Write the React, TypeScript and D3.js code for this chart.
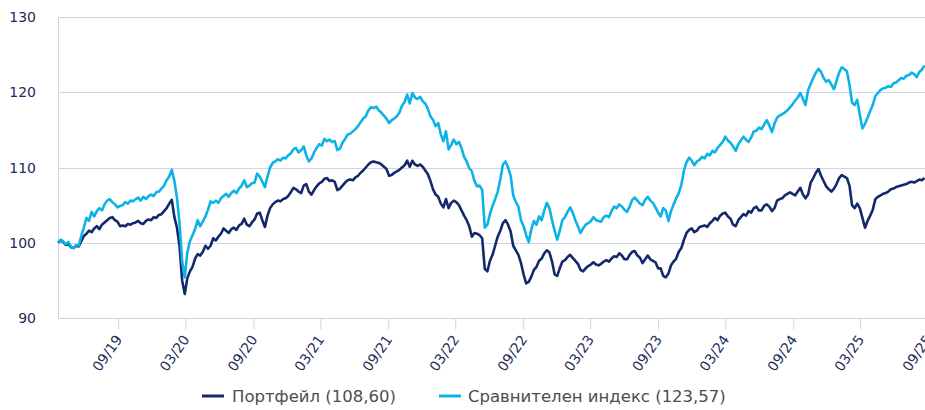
import React, { useEffect, useRef } from "react";
import * as d3 from "d3";

// weekly observations, first one on 22.03.2019
const startDate = new Date(2019, 2, 22);
const stepDays = 7;

const portfolio = [
  100.0, 100.3, 100.1, 99.7, 99.8, 99.4, 99.3, 99.6, 99.5, 100.2,
  100.9, 101.2, 101.6, 101.4, 101.9, 102.2, 101.8, 102.4, 102.7, 103.0,
  103.3, 103.4, 103.0, 102.8, 102.2, 102.3, 102.2, 102.5, 102.4, 102.6,
  102.7, 102.9, 102.6, 102.5, 102.9, 103.1, 103.0, 103.4, 103.3, 103.7,
  103.8, 104.2, 104.6, 105.2, 105.7, 103.4, 102.0, 99.5, 95.0, 93.2,
  95.3, 96.2, 96.8, 97.9, 98.5, 98.3, 98.8, 99.6, 99.2, 99.6,
  100.6, 100.3, 100.8, 101.2, 101.9, 101.6, 101.3, 101.8, 102.0, 101.7,
  102.3, 102.5, 103.2, 102.4, 102.2, 102.7, 103.1, 103.9, 104.0, 103.0,
  102.1, 103.6, 104.6, 105.1, 105.4, 105.6, 105.5, 105.8, 105.9, 106.2,
  106.7, 107.3, 107.1, 106.8, 106.6, 107.6, 107.8, 106.8, 106.4, 107.0,
  107.5, 107.9, 108.1, 108.5, 108.6, 108.2, 108.3, 108.1, 107.0, 107.2,
  107.6, 108.0, 108.3, 108.4, 108.3, 108.7, 108.9, 109.3, 109.6, 110.0,
  110.4, 110.7, 110.8, 110.7, 110.6, 110.4, 110.1, 109.8, 108.9, 109.0,
  109.3, 109.5, 109.7, 110.0, 110.3, 110.9, 110.1, 110.9, 110.4, 110.2,
  110.4, 110.1, 109.6, 109.1, 108.2, 107.1, 106.4, 106.1, 105.2, 104.7,
  105.8, 104.6, 105.3, 105.6, 105.4, 105.0, 104.3, 103.6, 103.0, 102.2,
  100.8, 101.3, 101.2, 101.0, 100.6, 96.5, 96.2, 97.6, 98.4, 99.6,
  100.8, 101.6, 102.6, 103.0, 102.4, 101.5, 99.6, 99.0, 98.4, 97.3,
  95.8, 94.6, 94.8, 95.5, 96.4, 96.8, 97.6, 97.9, 98.6, 99.0,
  98.7, 97.5, 95.8, 95.6, 96.6, 97.5, 97.7, 98.1, 98.4, 98.0,
  97.6, 97.2, 96.4, 96.2, 96.6, 96.9, 97.1, 97.4, 97.1, 97.0,
  97.2, 97.5, 97.7, 97.5, 97.9, 98.2, 98.1, 98.6, 98.3, 97.8,
  97.8, 98.4, 98.8, 98.9, 98.3, 98.0, 97.3, 97.8, 98.3, 97.8,
  97.6, 97.4, 96.6, 96.6, 95.6, 95.4, 95.9, 97.0, 97.5, 97.9,
  98.8, 99.3, 100.4, 101.3, 101.7, 101.9, 101.4, 101.6, 102.1, 102.2,
  102.3, 102.1, 102.6, 102.9, 103.3, 103.0, 103.6, 103.9, 104.0, 103.5,
  103.2, 102.4, 102.2, 103.0, 103.4, 103.8, 103.6, 104.2, 104.0, 104.6,
  104.8, 104.3, 104.3, 104.9, 105.1, 104.8, 104.2, 104.6, 105.6, 105.8,
  105.9, 106.3, 106.5, 106.7, 106.5, 106.3, 106.8, 107.3, 106.4, 105.9,
  106.4, 108.0, 108.6, 109.3, 109.8, 108.9, 108.2, 107.5, 107.1, 106.8,
  107.2, 107.8, 108.6, 109.0, 108.8, 108.6, 107.6, 105.0, 104.6, 105.2,
  104.6, 103.3, 102.0, 102.9, 103.6, 104.4, 105.8, 106.1, 106.3, 106.5,
  106.6, 106.8, 107.1, 107.2, 107.4, 107.5, 107.6, 107.7, 107.8, 108.0,
  108.1, 108.0, 108.2, 108.4, 108.3, 108.6,
];

const benchmark = [
  100.0, 100.4, 100.2, 99.8, 100.1, 99.5, 99.3, 99.7, 99.6, 100.9,
  102.0, 103.3, 102.9, 104.1, 103.5, 104.2, 104.6, 104.3, 105.1, 105.6,
  105.8, 105.4, 105.1, 104.7, 104.9, 105.0, 105.4, 105.2, 105.6, 105.5,
  105.8, 106.0, 105.6, 106.1, 105.8, 106.2, 106.4, 106.2, 106.7, 106.8,
  107.2, 107.6, 108.3, 108.8, 109.7, 108.2, 106.0, 102.5, 97.5, 95.4,
  98.7, 100.2, 101.0, 101.8, 103.0, 102.2, 102.8, 103.5, 104.4, 105.5,
  105.3, 105.6, 105.3, 105.9, 106.2, 106.5, 106.1, 106.6, 106.9, 106.6,
  107.2, 107.6, 108.3, 107.4, 107.6, 107.9, 108.0, 109.2, 108.8, 108.1,
  107.4, 108.8, 110.0, 110.6, 110.8, 111.1, 110.9, 111.3, 111.2, 111.6,
  111.9, 112.4, 112.6, 112.0, 112.3, 112.8, 111.6, 110.8, 111.2, 112.0,
  112.6, 113.1, 112.9, 113.8, 113.5, 113.7, 113.4, 113.5, 112.3, 112.5,
  113.3, 113.8, 114.4, 114.5, 114.8, 115.1, 115.5, 116.0, 116.5, 116.8,
  117.6, 118.0, 117.9, 118.1, 117.6, 117.3, 116.9, 116.5, 115.9, 116.3,
  116.5, 116.8, 117.3, 118.2, 118.7, 119.7, 118.5, 119.9, 119.3, 119.1,
  119.4, 118.8, 118.5, 117.8, 116.8, 116.3, 115.5, 115.9, 114.4, 113.5,
  114.8, 112.4, 113.0, 113.7, 113.1, 113.4, 112.6, 111.4, 110.8, 109.9,
  109.5, 108.2, 107.5, 107.6, 107.0, 102.0, 102.4, 103.8, 104.9, 105.8,
  106.8, 108.4, 110.4, 110.8, 110.0, 108.9, 106.3, 105.4, 104.8, 103.0,
  102.2, 101.0, 100.1, 101.8, 102.9, 102.4, 103.5, 103.0, 104.3, 105.3,
  104.6, 103.0, 101.6, 100.4, 101.6, 103.0, 103.4, 104.1, 104.7, 104.0,
  103.0, 102.2, 101.3, 101.9, 102.4, 102.6, 102.9, 103.4, 103.0, 102.9,
  102.8, 103.4, 103.6, 103.4, 104.2, 104.8, 104.6, 105.1, 104.8, 104.4,
  104.1, 104.8, 105.7, 106.0, 105.6, 105.2, 105.0, 105.7, 106.1, 105.6,
  105.3, 104.7, 104.0, 103.5, 104.6, 104.3, 102.9, 104.2, 105.1, 105.9,
  106.6, 107.7, 109.6, 110.7, 111.3, 110.9, 110.3, 110.8, 111.0, 111.4,
  111.2, 111.8, 111.6, 112.2, 112.0, 112.6, 113.0, 113.4, 114.1, 113.6,
  113.3, 112.8, 112.2, 113.1, 113.6, 114.1, 113.7, 113.4, 114.0, 114.8,
  114.9, 115.3, 115.1, 115.7, 116.3, 115.6, 114.7, 115.8, 116.6, 116.9,
  117.1, 117.3, 117.6, 118.0, 118.4, 118.9, 119.3, 119.9, 119.1, 118.3,
  120.3, 121.1, 121.9, 122.6, 123.1, 122.7, 121.9, 121.4, 121.6, 121.0,
  120.4, 121.5, 122.6, 123.3, 123.1, 122.8, 121.0, 118.6, 118.3, 119.0,
  117.0, 115.2, 115.8, 116.6, 117.5, 118.3, 119.5, 119.9, 120.3, 120.5,
  120.6, 120.8, 120.7, 121.2, 121.3, 121.6, 121.9, 121.8, 122.2, 122.3,
  122.6, 122.4, 122.0, 122.7, 123.0, 123.57,
];

const yTicks = [90, 100, 110, 120, 130];
const xTickDates = [
  "2019-09-01", "2020-03-01", "2020-09-01", "2021-03-01", "2021-09-01",
  "2022-03-01", "2022-09-01", "2023-03-01", "2023-09-01", "2024-03-01",
  "2024-09-01", "2025-03-01", "2025-09-01",
];
const xTickLabels = [
  "09/19", "03/20", "09/20", "03/21", "09/21", "03/22", "09/22",
  "03/23", "09/23", "03/24", "09/24", "03/25", "09/25",
];

const seriesNames = ["Портфейл (108,60)", "Сравнителен индекс (123,57)"];
const seriesColors = ["#14296b", "#0db3e6"];

const W = 925;
const H = 410;
const margin = { top: 17, right: 0, bottom: 92, left: 58 };

const App = () => {
  const svgRef = useRef(null);

  useEffect(() => {
    const svg = d3.select(svgRef.current);
    svg.selectAll("*").remove();

    const dates = portfolio.map((_, i) => d3.timeDay.offset(startDate, i * stepDays));
    const x = d3
      .scaleTime()
      .domain([dates[0], dates[dates.length - 1]])
      .range([margin.left, W - 0.5]);
    const y = d3
      .scaleLinear()
      .domain([90, 130])
      .range([H - margin.bottom, margin.top]);

    const gridColor = "#ccd6e6";
    const axisFont = "'DejaVu Sans', Verdana, sans-serif";
    const navy = "#1d2b5c";

    // horizontal grid
    svg
      .append("g")
      .selectAll("line")
      .data(yTicks)
      .enter()
      .append("line")
      .attr("x1", margin.left)
      .attr("x2", W)
      .attr("y1", (d) => Math.round(y(d)) + 0.5)
      .attr("y2", (d) => Math.round(y(d)) + 0.5)
      .attr("stroke", gridColor)
      .attr("stroke-width", 1);

    // left axis line
    svg
      .append("line")
      .attr("x1", margin.left + 0.5)
      .attr("x2", margin.left + 0.5)
      .attr("y1", y(130))
      .attr("y2", y(90))
      .attr("stroke", gridColor);

    // y labels
    svg
      .append("g")
      .selectAll("text")
      .data(yTicks)
      .enter()
      .append("text")
      .attr("x", 36)
      .attr("y", (d) => y(d))
      .attr("dy", "0.36em")
      .attr("text-anchor", "end")
      .style("font-family", axisFont)
      .style("font-size", "14px")
      .attr("fill", navy)
      .text((d) => d);

    // x axis
    const parse = d3.timeParse("%Y-%m-%d");
    const tickDates = xTickDates.map((s) => parse(s));
    const xAxis = svg
      .append("g")
      .attr("transform", `translate(0,${Math.round(y(90)) + 0.5})`)
      .call(
        d3
          .axisBottom(x)
          .tickValues(tickDates)
          .tickSize(11)
          .tickFormat((d, i) => xTickLabels[i])
      );
    xAxis.select(".domain").remove();
    xAxis.selectAll(".tick line").attr("stroke", gridColor);
    xAxis
      .selectAll(".tick text")
      .attr("y", 0)
      .attr("dy", "0.36em")
      .attr("transform", "translate(0,18) rotate(-55)")
      .style("text-anchor", "end")
      .style("font-family", axisFont)
      .style("font-size", "14px")
      .attr("fill", navy);

    // lines
    const series = [portfolio, benchmark];
    series.forEach((values, k) => {
      const line = d3
        .line()
        .x((d, i) => x(dates[i]))
        .y((d) => y(d))
        .curve(d3.curveLinear);
      svg
        .append("path")
        .datum(values)
        .attr("d", line)
        .attr("fill", "none")
        .attr("stroke", seriesColors[k])
        .attr("stroke-width", 2.6)
        .attr("stroke-linejoin", "round");
    });

    // legend
    const legendPos = [
      { sx: 202, tx: 232 },
      { sx: 439, tx: 468 },
    ];
    seriesNames.forEach((name, k) => {
      const g = svg.append("g");
      g.append("line")
        .attr("x1", legendPos[k].sx)
        .attr("x2", legendPos[k].sx + 22)
        .attr("y1", 396)
        .attr("y2", 396)
        .attr("stroke", seriesColors[k])
        .attr("stroke-width", 3);
      g.append("text")
        .attr("x", legendPos[k].tx)
        .attr("y", 402)
        .style("font-family", axisFont)
        .style("font-size", "16.5px")
        .attr("fill", "#4d4d4d")
        .text(name);
    });
  }, []);

  return (
    <div style={{ position: "absolute", left: 0, top: 0 }}>
      <svg ref={svgRef} width={W} height={H} style={{ display: "block" }}></svg>
    </div>
  );
};

export default App;
